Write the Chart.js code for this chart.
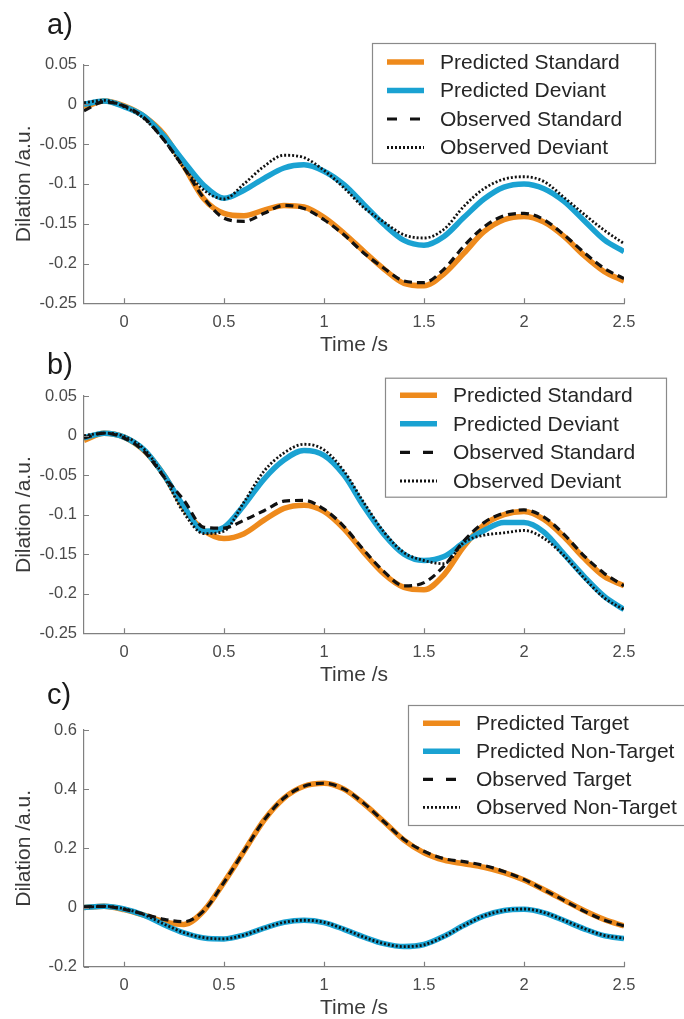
<!DOCTYPE html>
<html>
<head>
<meta charset="utf-8">
<script src="https://cdn.jsdelivr.net/npm/chart.js@4.4.1/dist/chart.umd.min.js"></script>
<style>
  html, body { margin: 0; padding: 0; background: #fff; overflow: hidden; }
  .panel { position: absolute; left: 0; width: 684px; }
</style>
</head>
<body>
<div class="panel" style="top:0px;height:367px"><canvas id="chartA"></canvas></div>
<div class="panel" style="top:335px;height:362px"><canvas id="chartB"></canvas></div>
<div class="panel" style="top:665px;height:354px"><canvas id="chartC"></canvas></div>
<script>
// time axis (s)
const time = [-0.2, -0.1, 0, 0.1, 0.2, 0.3, 0.4, 0.5, 0.6, 0.7, 0.8, 0.9, 1.0, 1.1,
              1.2, 1.3, 1.4, 1.5, 1.6, 1.7, 1.8, 1.9, 2.0, 2.1, 2.2, 2.3, 2.4, 2.5];

// a) standard / deviant
const aPredStd = [-0.004, 0.004, -0.002, -0.015, -0.038, -0.078, -0.119, -0.137, -0.140, -0.133, -0.127, -0.129, -0.142, -0.162,
                  -0.185, -0.207, -0.225, -0.228, -0.213, -0.187, -0.160, -0.145, -0.141, -0.148, -0.166, -0.190, -0.210, -0.222];
const aPredDev = [0.000, 0.004, -0.003, -0.015, -0.040, -0.072, -0.102, -0.118, -0.108, -0.093, -0.080, -0.076, -0.084, -0.101,
                  -0.126, -0.151, -0.171, -0.177, -0.166, -0.142, -0.119, -0.104, -0.100, -0.106, -0.122, -0.146, -0.170, -0.185];
const aObsStd  = [-0.008, 0.003, -0.002, -0.017, -0.045, -0.080, -0.118, -0.143, -0.147, -0.137, -0.127, -0.131, -0.145, -0.164,
                  -0.187, -0.206, -0.222, -0.224, -0.207, -0.178, -0.154, -0.140, -0.137, -0.145, -0.164, -0.186, -0.206, -0.219];
const aObsDev  = [0.002, 0.005, -0.003, -0.018, -0.045, -0.080, -0.108, -0.119, -0.100, -0.078, -0.064, -0.067, -0.083, -0.105,
                  -0.130, -0.148, -0.164, -0.168, -0.157, -0.128, -0.106, -0.094, -0.091, -0.097, -0.117, -0.138, -0.158, -0.175];

// b) standard / deviant
const bPredStd = [-0.006, 0.003, -0.002, -0.019, -0.050, -0.092, -0.120, -0.130, -0.124, -0.107, -0.092, -0.088, -0.096, -0.118,
                  -0.148, -0.175, -0.192, -0.195, -0.176, -0.140, -0.113, -0.100, -0.096, -0.106, -0.128, -0.155, -0.178, -0.190];
const bPredDev = [-0.003, 0.003, -0.002, -0.018, -0.050, -0.090, -0.121, -0.116, -0.088, -0.055, -0.031, -0.019, -0.025, -0.050,
                  -0.090, -0.125, -0.150, -0.158, -0.153, -0.135, -0.120, -0.110, -0.110, -0.122, -0.150, -0.178, -0.203, -0.220];
const bObsStd  = [-0.003, 0.003, -0.003, -0.020, -0.052, -0.082, -0.116, -0.117, -0.107, -0.095, -0.083, -0.082, -0.093, -0.115,
                  -0.145, -0.172, -0.190, -0.186, -0.165, -0.133, -0.110, -0.098, -0.094, -0.103, -0.125, -0.152, -0.174, -0.190];
const bObsDev  = [0.000, 0.003, -0.001, -0.017, -0.052, -0.098, -0.124, -0.121, -0.084, -0.045, -0.022, -0.011, -0.018, -0.045,
                  -0.085, -0.122, -0.148, -0.158, -0.162, -0.135, -0.126, -0.123, -0.120, -0.130, -0.152, -0.180, -0.205, -0.220];

// c) target / non-target
const cPredTgt = [0.000, 0.004, -0.007, -0.026, -0.048, -0.057, -0.010, 0.085, 0.190, 0.295, 0.370, 0.410, 0.420, 0.400,
                  0.350, 0.290, 0.228, 0.185, 0.160, 0.148, 0.136, 0.118, 0.093, 0.060, 0.025, -0.010, -0.040, -0.062];
const cPredNon = [0.000, 0.004, -0.005, -0.026, -0.058, -0.086, -0.103, -0.106, -0.093, -0.070, -0.050, -0.043, -0.051, -0.074,
                  -0.100, -0.122, -0.132, -0.125, -0.097, -0.060, -0.028, -0.010, -0.006, -0.018, -0.044, -0.072, -0.095, -0.105];
const cObsTgt  = [0.002, 0.004, -0.006, -0.022, -0.040, -0.048, -0.010, 0.085, 0.190, 0.295, 0.370, 0.410, 0.420, 0.400,
                  0.352, 0.290, 0.230, 0.190, 0.165, 0.155, 0.142, 0.122, 0.095, 0.060, 0.024, -0.012, -0.042, -0.062];
const cObsNon  = [0.001, 0.004, -0.004, -0.024, -0.056, -0.085, -0.102, -0.106, -0.093, -0.070, -0.050, -0.043, -0.050, -0.073,
                  -0.100, -0.122, -0.132, -0.126, -0.098, -0.061, -0.028, -0.010, -0.005, -0.017, -0.043, -0.071, -0.094, -0.104];

const labelsAB = ['Predicted Standard', 'Predicted Deviant', 'Observed Standard', 'Observed Deviant'];
const labelsC  = ['Predicted Target', 'Predicted Non-Target', 'Observed Target', 'Observed Non-Target'];

const xTicks   = [0, 0.5, 1, 1.5, 2, 2.5];
const yTicksAB = [-0.25, -0.2, -0.15, -0.1, -0.05, 0, 0.05];
const yTicksC  = [-0.2, 0, 0.2, 0.4, 0.6];

const FONT = '"Liberation Sans", Arial, sans-serif';
const ORANGE = '#EE8A1C';
const BLUE = '#1AA2D2';
const AXIS = '#808080';
const TEXT = '#4a4a4a';

Chart.defaults.font.family = FONT;

// inward tick marks, panel letter and boxed legend
const decor = {
  id: 'decor',
  afterDraw(chart, args, opts) {
    const ctx = chart.ctx;
    const xs = chart.scales.x, ys = chart.scales.y;
    const area = chart.chartArea;
    ctx.save();
    ctx.strokeStyle = AXIS;
    ctx.lineWidth = 1.2;
    ctx.beginPath();
    xs.ticks.forEach(t => {
      const px = Math.round(xs.getPixelForValue(t.value)) + 0.5;
      ctx.moveTo(px, area.bottom);
      ctx.lineTo(px, area.bottom - 5);
    });
    ys.ticks.forEach(t => {
      const py = Math.round(ys.getPixelForValue(t.value)) + 0.5;
      ctx.moveTo(area.left, py);
      ctx.lineTo(area.left + 5, py);
    });
    ctx.stroke();

    ctx.fillStyle = '#1a1a1a';
    ctx.font = '29px ' + FONT;
    ctx.textBaseline = 'alphabetic';
    ctx.textAlign = 'left';
    ctx.fillText(opts.panel, opts.panelX, opts.panelY);

    const b = opts.box;
    ctx.fillStyle = '#fff';
    ctx.fillRect(b.x, b.y, b.w, b.h);
    ctx.strokeStyle = '#8a8a8a';
    ctx.lineWidth = 1.2;
    ctx.strokeRect(b.x + 0.5, b.y + 0.5, b.w, b.h);
    chart.data.datasets.forEach((ds, i) => {
      const ry = b.y + b.first + i * b.step;
      ctx.strokeStyle = ds.borderColor;
      ctx.lineWidth = ds.borderWidth;
      ctx.setLineDash(ds.legendDash || []);
      ctx.beginPath();
      ctx.moveTo(b.x + 15, ry);
      ctx.lineTo(b.x + 52, ry);
      ctx.stroke();
      ctx.setLineDash([]);
      ctx.fillStyle = '#262626';
      ctx.font = '21px ' + FONT;
      ctx.textBaseline = 'middle';
      ctx.fillText(ds.label, b.x + 68, ry + 1);
    });
    ctx.restore();
  }
};

function pts(vals) {
  return vals.map((v, i) => ({ x: time[i], y: v }));
}

function fmt(v) {
  const s = String(+Number(v).toFixed(2));
  return s === '-0' ? '0' : s;
}

function makeChart(id, p) {
  const styles = [
    { color: ORANGE, width: 5.5, dash: [], legendDash: [], order: 3 },
    { color: BLUE, width: 5.5, dash: [], legendDash: [], order: 2 },
    { color: '#111', width: 3.2, dash: [8, 5], legendDash: [10, 13], order: 1 },
    { color: '#111', width: 2.8, dash: [2, 2], legendDash: [2, 2], order: 0 }
  ];
  new Chart(document.getElementById(id), {
    type: 'line',
    data: {
      datasets: p.series.map((s, i) => ({
        label: p.labels[i],
        data: pts(s),
        borderColor: styles[i].color,
        borderWidth: styles[i].width,
        borderDash: styles[i].dash,
        legendDash: styles[i].legendDash,
        order: styles[i].order,
        pointRadius: 0,
        fill: false,
        cubicInterpolationMode: 'monotone',
        borderCapStyle: 'butt'
      }))
    },
    options: {
      responsive: true,
      maintainAspectRatio: false,
      animation: false,
      devicePixelRatio: 1,
      layout: { padding: { top: p.padTop, bottom: p.padBottom, left: 0, right: 60 } },
      plugins: {
        legend: { display: false },
        tooltip: { enabled: false },
        decor: { panel: p.panel, panelX: 47, panelY: p.panelY, box: p.box }
      },
      scales: {
        x: {
          type: 'linear',
          min: -0.2,
          max: 2.5,
          afterBuildTicks: s => { s.ticks = xTicks.map(v => ({ value: v })); },
          afterFit: s => { s.height = 52; },
          grid: { display: false, drawTicks: false },
          border: { display: true, color: AXIS, width: 1.2 },
          ticks: { color: TEXT, padding: 10.5, maxRotation: 0, font: { size: 16.5, lineHeight: 1 }, callback: v => fmt(v) },
          title: { display: true, text: 'Time /s', color: '#3a3a3a', padding: { top: 0, bottom: 0 }, font: { size: 21, lineHeight: 1 } }
        },
        y: {
          type: 'linear',
          min: p.yMin,
          max: p.yMax,
          afterBuildTicks: s => { s.ticks = p.yTicks.map(v => ({ value: v })); },
          afterFit: s => { s.width = 84; },
          grid: { display: false, drawTicks: false },
          border: { display: true, color: AXIS, width: 1.2 },
          ticks: { color: TEXT, padding: 7, font: { size: 16.5, lineHeight: 1 }, callback: v => fmt(v) },
          title: { display: true, text: 'Dilation /a.u.', color: '#3a3a3a', padding: { top: 13.5, bottom: 0 }, font: { size: 21, lineHeight: 1 } }
        }
      }
    },
    plugins: [decor]
  });
}

makeChart('chartA', {
  series: [aPredStd, aPredDev, aObsStd, aObsDev], labels: labelsAB,
  yMin: -0.25, yMax: 0.05, yTicks: yTicksAB,
  padTop: 64.5, padBottom: 11.7,
  panel: 'a)', panelY: 33.5,
  box: { x: 372, y: 43, w: 283, h: 120, first: 19, step: 28.5 }
});

makeChart('chartB', {
  series: [bPredStd, bPredDev, bObsStd, bObsDev], labels: labelsAB,
  yMin: -0.25, yMax: 0.05, yTicks: yTicksAB,
  padTop: 61, padBottom: 11.7,
  panel: 'b)', panelY: 38.5,
  box: { x: 385, y: 42.7, w: 281, h: 119, first: 17.5, step: 28.6 }
});

makeChart('chartC', {
  series: [cPredTgt, cPredNon, cObsTgt, cObsNon], labels: labelsC,
  yMin: -0.2, yMax: 0.6, yTicks: yTicksC,
  padTop: 65, padBottom: 0.3,
  panel: 'c)', panelY: 38.5,
  box: { x: 408, y: 40, w: 290, h: 120, first: 18.3, step: 28 }
});
</script>
</body>
</html>
